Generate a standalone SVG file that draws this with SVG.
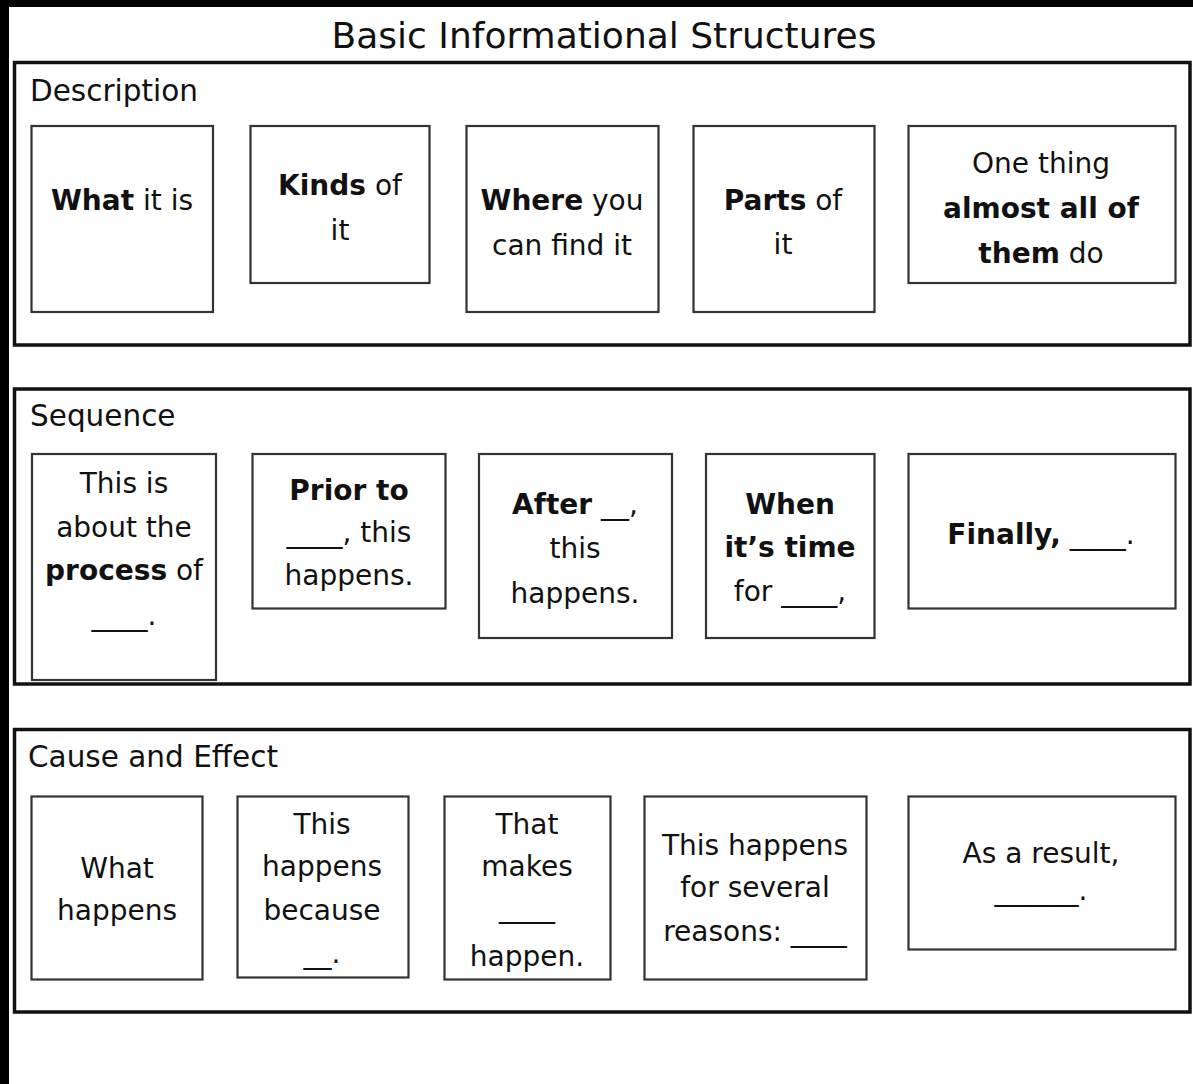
<svg xmlns="http://www.w3.org/2000/svg" width="1193" height="1084" viewBox="0 0 1193 1084">
<style>
text{font-family:"DejaVu Sans","Liberation Sans",sans-serif;fill:#111;}
.t{font-size:28px;text-anchor:middle;}
.b{font-weight:bold;}
.h{font-size:29.5px;}
.title{font-size:36px;text-anchor:middle;}
.sec{fill:none;stroke:#111;stroke-width:3.5;}
.box{fill:#fff;stroke:#333;stroke-width:2.2;}
</style>
<rect x="0" y="0" width="1193" height="1084" fill="#fff"/>
<rect x="0" y="0" width="1193" height="7" fill="#000"/>
<rect x="0" y="0" width="9" height="1084" fill="#000"/>
<text class="title" x="604" y="48">Basic Informational Structures</text>

<g id="description">
<rect class="sec" x="14.5" y="62.5" width="1175.5" height="282.5"/>
<text class="h" x="30" y="101">Description</text>
<g id="d1"><rect class="box" x="31.5" y="126" width="181.5" height="186"/>
<text class="t" x="122" y="210"><tspan class="b">What</tspan> it is</text></g>
<g id="d2"><rect class="box" x="250.5" y="126" width="179" height="157"/>
<text class="t" x="340" y="195"><tspan class="b">Kinds</tspan> of</text>
<text class="t" x="340" y="240">it</text></g>
<g id="d3"><rect class="box" x="466.5" y="126" width="192" height="186"/>
<text class="t" x="562" y="210"><tspan class="b">Where</tspan> you</text>
<text class="t" x="562" y="255">can find it</text></g>
<g id="d4"><rect class="box" x="693.5" y="126" width="181" height="186"/>
<text class="t" x="783" y="210"><tspan class="b">Parts</tspan> of</text>
<text class="t" x="783" y="254">it</text></g>
<g id="d5"><rect class="box" x="908.5" y="126" width="267" height="157"/>
<text class="t" x="1041" y="173">One thing</text>
<text class="t b" x="1041" y="218">almost all of</text>
<text class="t" x="1041" y="263"><tspan class="b">them</tspan> do</text></g>
</g>

<g id="sequence">
<rect class="sec" x="14.5" y="389" width="1175.5" height="295"/>
<text class="h" x="30" y="426">Sequence</text>
<g id="s1"><rect class="box" x="32" y="454" width="184" height="226"/>
<text class="t" x="124" y="493">This is</text>
<text class="t" x="124" y="537">about the</text>
<text class="t" x="124" y="580"><tspan class="b">process</tspan> of</text>
<text class="t" x="124" y="625">____.</text></g>
<g id="s2"><rect class="box" x="252.5" y="454" width="193" height="154.5"/>
<text class="t b" x="349" y="500">Prior to</text>
<text class="t" x="349" y="542">____, this</text>
<text class="t" x="349" y="585">happens.</text></g>
<g id="s3"><rect class="box" x="479" y="454" width="193" height="184"/>
<text class="t" x="575" y="514"><tspan class="b">After</tspan> __,</text>
<text class="t" x="575" y="558">this</text>
<text class="t" x="575" y="603">happens.</text></g>
<g id="s4"><rect class="box" x="706" y="454" width="168.5" height="184"/>
<text class="t b" x="790" y="514">When</text>
<text class="t b" x="790" y="557">it’s time</text>
<text class="t" x="790" y="601">for ____,</text></g>
<g id="s5"><rect class="box" x="908.5" y="454" width="267" height="154.5"/>
<text class="t" x="1041" y="544"><tspan class="b">Finally,</tspan> ____.</text></g>
</g>

<g id="cause-effect">
<rect class="sec" x="14.5" y="729.5" width="1175.5" height="282.5"/>
<text class="h" x="28" y="767">Cause and Effect</text>
<g id="c1"><rect class="box" x="31.5" y="796.5" width="171" height="183"/>
<text class="t" x="117" y="878">What</text>
<text class="t" x="117" y="920">happens</text></g>
<g id="c2"><rect class="box" x="237.5" y="796.5" width="171" height="181"/>
<text class="t" x="322" y="834">This</text>
<text class="t" x="322" y="876">happens</text>
<text class="t" x="322" y="920">because</text>
<text class="t" x="322" y="963">__.</text></g>
<g id="c3"><rect class="box" x="444.5" y="796.5" width="166" height="183"/>
<text class="t" x="527" y="834">That</text>
<text class="t" x="527" y="876">makes</text>
<text class="t" x="527" y="917">____</text>
<text class="t" x="527" y="966">happen.</text></g>
<g id="c4"><rect class="box" x="644.5" y="796.5" width="222" height="183"/>
<text class="t" x="755" y="855">This happens</text>
<text class="t" x="755" y="897">for several</text>
<text class="t" x="755" y="941">reasons: ____</text></g>
<g id="c5"><rect class="box" x="908.5" y="796.5" width="267" height="153"/>
<text class="t" x="1041" y="863">As a result,</text>
<text class="t" x="1041" y="900">______.</text></g>
</g>
<g id="connectors"/>
</svg>
